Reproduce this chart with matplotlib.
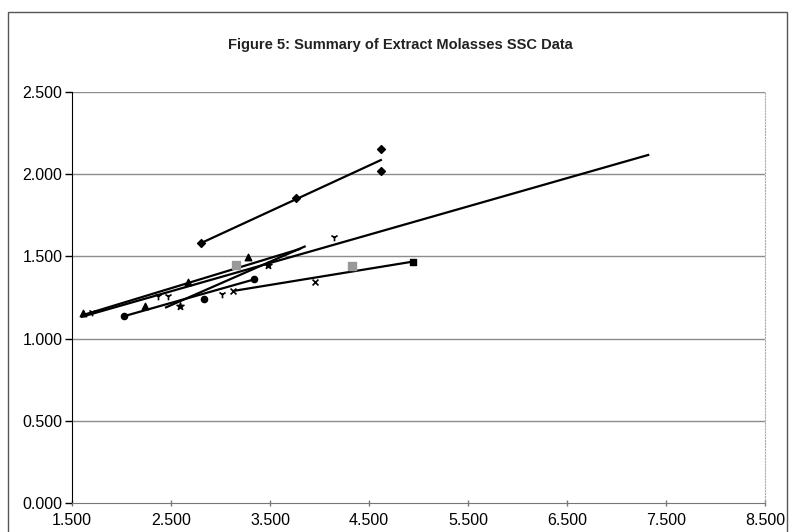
import numpy as np
import matplotlib
matplotlib.use("Agg")
import matplotlib.pyplot as plt
from matplotlib.patches import Rectangle
from matplotlib.ticker import FuncFormatter

plt.rcParams['font.family'] = ['Liberation Sans', 'DejaVu Sans']

title = "Figure 5: Summary of Extract Molasses SSC Data"

# --- data points ---
diam_x = [2.80, 3.76, 4.62, 4.62]
diam_y = [1.580, 1.853, 2.153, 2.021]

tri_x = [1.61, 2.24, 2.67, 3.28]
tri_y = [1.154, 1.200, 1.346, 1.498]

star_x = [1.70, 2.37, 2.47, 3.02, 4.15]
star_y = [1.164, 1.261, 1.261, 1.271, 1.616]

circ_x = [2.03, 2.83, 3.34]
circ_y = [1.137, 1.239, 1.360]

dark_x = [2.59, 3.48]
dark_y = [1.200, 1.448]

xm_x = [3.13, 3.955]
xm_y = [1.290, 1.342]

gsq_x = [3.16, 4.33]
gsq_y = [1.448, 1.442]

bsq_x = [4.94]
bsq_y = [1.468]

# --- trend lines (start/end values) ---
trend_x0 = [2.80, 1.60, 1.62, 2.03, 2.45, 3.13]
trend_y0 = [1.580, 1.133, 1.145, 1.137, 1.190, 1.290]
trend_x1 = [4.62, 7.32, 3.80, 3.34, 3.85, 4.94]
trend_y1 = [2.086, 2.117, 1.545, 1.360, 1.560, 1.468]

xticks = [1.5, 2.5, 3.5, 4.5, 5.5, 6.5, 7.5, 8.5]
yticks = [0.0, 0.5, 1.0, 1.5, 2.0, 2.5]

fig = plt.figure(figsize=(7.92, 5.32), dpi=100)
fig.patch.set_facecolor('white')

# outer chart border
fig.add_artist(Rectangle((8/792, -0.01), (787-8)/792, 1 - 12/532 + 0.01,
                         transform=fig.transFigure, fill=False,
                         edgecolor='#555555', linewidth=1.0))

ax = fig.add_axes([72/792, 1 - 503/532, (765-72)/792, (503-92)/532])
ax.set_xlim(1.5, 8.5)
ax.set_ylim(0.0, 2.5)

for y in yticks[1:]:
    ax.axhline(y, color='#8c8c8c', linewidth=1.0, zorder=0)

ax.spines['top'].set_visible(False)
ax.spines['right'].set_color('#aaaaaa')
ax.spines['right'].set_linestyle(':')
ax.spines['left'].set_color('black')
ax.spines['bottom'].set_color('#777777')

ax.set_xticks(xticks)
ax.set_yticks(yticks)
ax.xaxis.set_major_formatter(FuncFormatter(lambda v, p: f"{v:.3f}"))
ax.yaxis.set_major_formatter(FuncFormatter(lambda v, p: f"{v:.3f}"))
ax.tick_params(axis='y', direction='out', length=5, width=1, labelsize=11.5, pad=2)
ax.tick_params(axis='x', direction='inout', length=5, width=1, color='#777777',
               labelsize=11.5, pad=5)

for x0, y0, x1, y1 in zip(trend_x0, trend_y0, trend_x1, trend_y1):
    ax.plot([x0, x1], [y0, y1], color='black', linewidth=1.6, zorder=3)

ax.scatter(diam_x, diam_y, marker='D', s=16, color='black', zorder=4)
ax.scatter(tri_x, tri_y, marker='^', s=22, color='black', zorder=4)
ax.scatter(star_x, star_y, marker='1', s=30, color='black', linewidths=1.2, zorder=4)
ax.scatter(circ_x, circ_y, marker='o', s=20, color='black', zorder=4)
ax.scatter(dark_x, dark_y, marker='*', s=30, color='black', zorder=4)
ax.scatter(xm_x, xm_y, marker='x', s=18, color='black', linewidths=1.2, zorder=4)
ax.scatter(gsq_x, gsq_y, marker='s', s=26, color='#999999', zorder=4)
ax.scatter(bsq_x, bsq_y, marker='s', s=20, color='black', zorder=4)

fig.text(400/792, 1 - 45/532, title, ha='center', va='center', fontsize=10.5,
         fontweight='bold', color='#222222')

fig.savefig("out.png", dpi=100)
